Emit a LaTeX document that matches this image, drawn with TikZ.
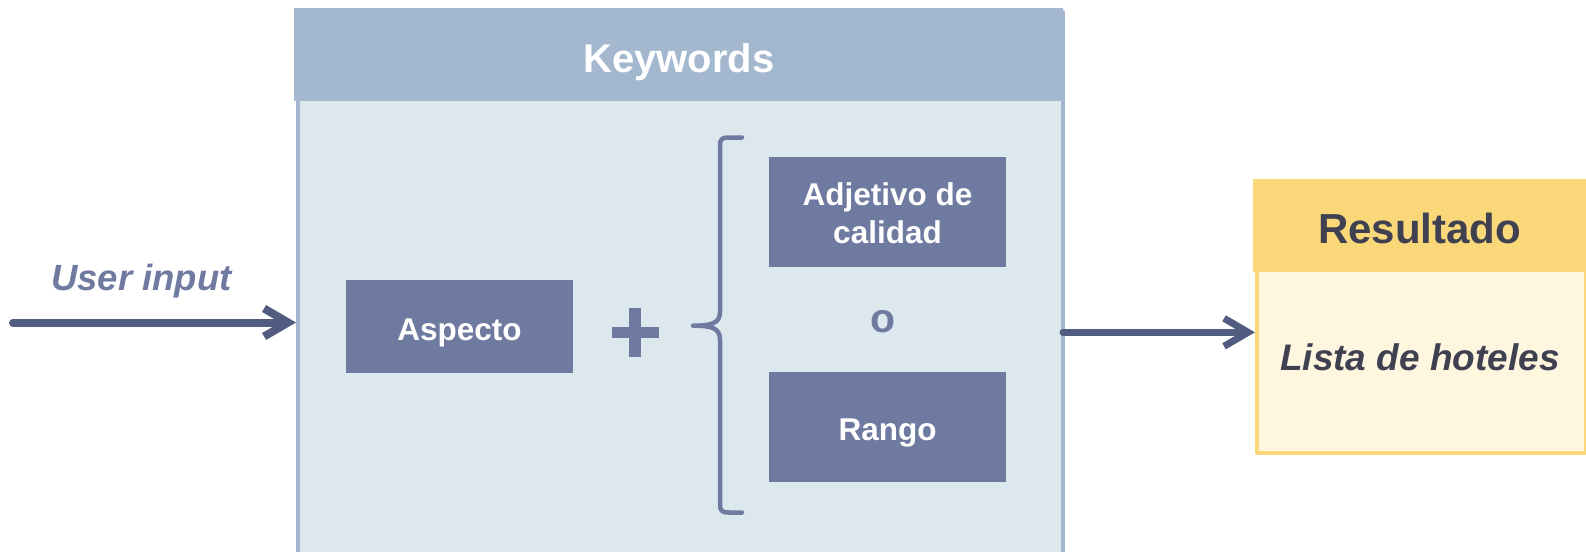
\documentclass[tikz,border=0pt]{standalone}
\usepackage{fontspec}
\setmainfont{Liberation Sans}
\usetikzlibrary{arrows.meta,positioning}
\definecolor{cpanel}{HTML}{DDE8EE}
\definecolor{chead}{HTML}{A3B8CF}
\definecolor{cbox}{HTML}{6F7AA0}
\definecolor{carrow}{HTML}{525B80}
\definecolor{cyhead}{HTML}{FAD87A}
\definecolor{cybody}{HTML}{FFF6E0}
\definecolor{cdark}{HTML}{3F4050}

\begin{document}
\begin{tikzpicture}[x=1pt,y=-1pt,>={Straight Barb[length=24pt,width=28pt]},
  line cap=round,line join=round,node distance=215.3pt,
  key node/.style={rectangle,fill=cbox,text=white,inner sep=0pt,align=center,
    text height=26pt,text depth=0pt,
    minimum width=237pt,minimum height=110pt,font=\fontsize{31.5}{38}\selectfont\bfseries},
  head node/.style={rectangle,inner sep=0pt,anchor=north west,minimum height=93pt,text depth=0pt},
  flow line/.style={->,draw=carrow,line width=7pt}]
  \useasboundingbox (0,0) rectangle (1586,551);

  % keywords panel
  \node[rectangle,fill=cpanel,draw=chead,line width=4pt,anchor=north west,
    minimum width=765pt,minimum height=560pt] (panel) at (296,10) {};
  \node[head node,fill=chead,minimum width=769pt,text=white,text height=35pt,
    font=\fontsize{40}{48}\selectfont\bfseries] (kwhead) at (294,8) {Keywords};

  \node[key node,minimum width=226.5pt,minimum height=92.7pt,text height=27.6pt] (aspect) at (459.5,326.5) {Aspecto};
  \node[key node,text height=64pt] (adj) at (887.5,211.7) {Adjetivo de\\calidad};
  \node[key node] (range) [below of=adj] {Rango};
  \node[text=cbox,inner sep=0pt,text height=21.3pt,text depth=0pt,
    font=\fontsize{41}{48}\selectfont\bfseries] (or) at (883,321.6) {o};

  % plus sign
  \fill[cbox] (611.7,326.7) rectangle (659.3,338.3);
  \fill[cbox] (629.3,308.3) rectangle (641.3,356.7);

  % brace
  \draw[cbox,line width=4.5pt]
    (742,137.5) -- (729,137.5) .. controls (722,137.5) and (720,139) .. (720,146)
    -- (720,312) .. controls (720,323) and (712,325.7) .. (693,325.7)
    .. controls (712,325.7) and (720,328) .. (720,340)
    -- (720,504) .. controls (720,511) and (722,512.5) .. (729,512.5) -- (742,512.5);

  % result panel
  \node[rectangle,fill=cybody,draw=cyhead,line width=4pt,anchor=north west,
    minimum width=329pt,minimum height=270pt] (result) at (1255,181) {};
  \node[head node,fill=cyhead,minimum width=333pt,text=cdark,text height=36.2pt,
    font=\fontsize{42}{50}\selectfont\bfseries] (reshead) at (1253,179) {Resultado};
  \node[text=cdark,font=\fontsize{37}{44}\selectfont\bfseries\itshape] (hotels) at (1420,357) {Lista de hoteles};

  % input and output
  \coordinate (start) at (13,322.5);
  \node[anchor=base,text=cbox,font=\fontsize{36.5}{44}\selectfont\bfseries\itshape] (user) at (141.5,290) {User input};
  \draw[flow line,line width=8pt] (start) -- (start -| panel.west);
  \coordinate (out) at (1063,332.3);
  \draw[flow line] (out) -- (out -| result.west);
\end{tikzpicture}
\end{document}
